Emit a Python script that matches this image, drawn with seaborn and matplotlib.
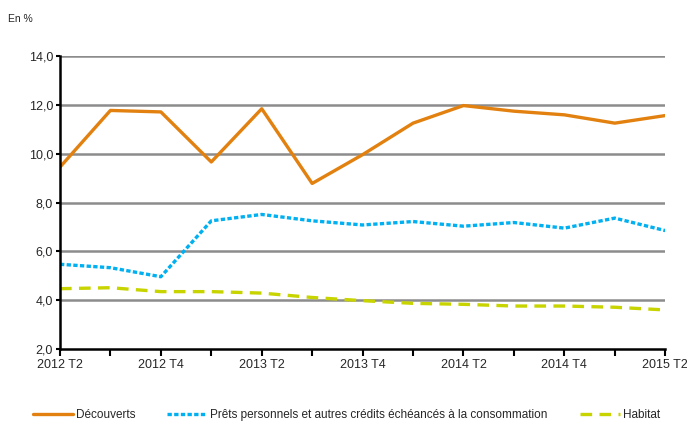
import pandas as pd
import seaborn as sns
import matplotlib.pyplot as plt

quarters = ['2012 T2', '2012 T3', '2012 T4', '2013 T1', '2013 T2', '2013 T3', '2013 T4',
            '2014 T1', '2014 T2', '2014 T3', '2014 T4', '2015 T1', '2015 T2']
decouverts = [9.45, 11.77, 11.71, 9.66, 11.84, 8.78, 9.96, 11.25, 11.97, 11.74, 11.59, 11.25, 11.56]
prets = [5.47, 5.33, 4.96, 7.25, 7.51, 7.25, 7.08, 7.22, 7.03, 7.18, 6.95, 7.36, 6.85]
habitat = [4.47, 4.51, 4.35, 4.35, 4.29, 4.11, 3.98, 3.87, 3.83, 3.76, 3.76, 3.71, 3.6]
yticks = [2, 4, 6, 8, 10, 12, 14]

sns.set_style('white')
plt.rcParams['font.family'] = ['Liberation Sans', 'DejaVu Sans']

df = pd.DataFrame({'pos': range(len(quarters)), 'Découverts': decouverts,
                   'Prêts personnels et autres crédits échéancés à la consommation': prets,
                   'Habitat': habitat})

fig = plt.figure(figsize=(6.87, 4.21), dpi=100)
ax = fig.add_axes([0.0873, 0.171, 0.881, 0.696])

for y in yticks[1:]:
    ax.axhline(y, color='#8c8c8c', lw=1.8, zorder=0)

sns.lineplot(data=df, x='pos', y='Découverts', ax=ax, color='#e2810f', lw=2.4,
             label='Découverts')
sns.lineplot(data=df, x='pos', y='Prêts personnels et autres crédits échéancés à la consommation',
             ax=ax, color='#00b0f0', lw=2.4, dashes=False,
             label='Prêts personnels et autres crédits échéancés à la consommation')
ax.lines[-1].set_linestyle((0, (1.3, 0.7)))
sns.lineplot(data=df, x='pos', y='Habitat', ax=ax, color='#c8d400', lw=2.4, label='Habitat')
ax.lines[-1].set_linestyle((0, (3.5, 2.2)))

ax.set_xlim(0, len(quarters) - 1)
ax.set_ylim(2, 14)
ax.set_xticks(range(len(quarters)))
ax.set_xticklabels([q if i % 2 == 0 else '' for i, q in enumerate(quarters)])
ax.set_yticks(yticks)
ax.set_yticklabels([f'{v:.1f}'.replace('.', ',') for v in yticks])
ax.tick_params(axis='x', direction='out', length=5, width=1.5, color='black', labelsize=9, pad=2)
ax.tick_params(axis='y', direction='out', length=3, width=1.5, color='black', labelsize=9, pad=2)
ax.tick_params(bottom=True, left=True)
ax.set_xlabel('')
ax.set_ylabel('')
for s in ['top', 'right']:
    ax.spines[s].set_visible(False)
for s in ['left', 'bottom']:
    ax.spines[s].set_color('black')
    ax.spines[s].set_linewidth(1.8)

handles, labels = ax.get_legend_handles_labels()
ax.get_legend().remove()
fig.legend(handles, labels, loc='lower center', bbox_to_anchor=(0.504, -0.025), ncol=3,
           frameon=False, fontsize=8.5, handlelength=3.4, columnspacing=2.7, handletextpad=0.25)

fig.text(0.012, 0.955, 'En %', fontsize=7.5, va='center')

fig.savefig('out.png', dpi=100)
